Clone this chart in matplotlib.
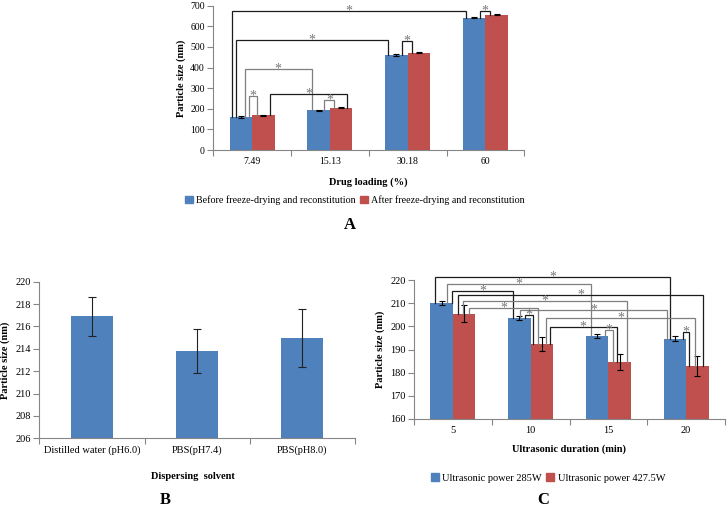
import numpy as np
import matplotlib
matplotlib.use("Agg")
from matplotlib import pyplot as plt
from matplotlib.patches import Patch

plt.rcParams['font.family'] = ['Liberation Serif', 'DejaVu Serif']

# ---- data ----
A_categories = ['7.49', '15.13', '30.18', '60']
A_before = [160, 193, 461, 641]
A_before_err = [3, 3, 3, 3]
A_after = [169, 205, 472, 656]
A_after_err = [3, 3, 3, 3]

B_categories = ['Distilled water (pH6.0)', 'PBS(pH7.4)', 'PBS(pH8.0)']
B_size = [216.9, 213.8, 215.0]
B_err = [1.75, 1.95, 2.6]

C_categories = ['5', '10', '15', '20']
C_285 = [210.0, 203.6, 195.9, 194.7]
C_285_err = [1.0, 1.0, 1.0, 1.0]
C_4275 = [205.4, 192.3, 184.6, 182.9]
C_4275_err = [3.7, 3.0, 3.5, 4.2]

# significance brackets: (cat a, series a, offset a, cat b, series b, offset b, height, shade)
A_brackets = [
    (0, 0, -0.39, 3, 0, -0.35, 674, 'k'),
    (0, 0, -0.20, 2, 0, -0.38, 534, 'k'),
    (0, 0, 0.17, 1, 0, -0.30, 391, 'g'),
    (0, 0, 0.36, 0, 1, -0.30, 264, 'g'),
    (0, 1, 0.28, 1, 1, 0.26, 270, 'k'),
    (1, 0, 0.25, 1, 1, -0.30, 243, 'g'),
    (2, 0, 0.23, 2, 1, -0.29, 529, 'k'),
    (3, 0, 0.25, 3, 1, -0.29, 674, 'k'),
]
C_brackets = [
    (0, 0, -0.29, 3, 0, -0.21, 221.2, 'k'),
    (0, 0, 0.23, 2, 0, -0.27, 218.1, 'g'),
    (0, 0, 0.47, 1, 0, -0.26, 215.3, 'k'),
    (0, 1, -0.29, 3, 1, 0.26, 213.7, 'k'),
    (0, 1, -0.04, 2, 1, 0.31, 210.8, 'g'),
    (0, 1, 0.21, 1, 1, -0.16, 208.0, 'g'),
    (1, 0, 0.03, 3, 0, -0.36, 207.1, 'g'),
    (1, 0, 0.25, 1, 1, -0.38, 204.8, 'k'),
    (1, 1, 0.20, 3, 1, -0.10, 203.7, 'g'),
    (1, 1, 0.35, 2, 1, -0.13, 199.6, 'k'),
    (2, 0, 0.35, 2, 1, -0.29, 198.5, 'g'),
    (3, 0, 0.36, 3, 1, -0.37, 197.6, 'k'),
]

BLUE = '#4F81BD'
RED = '#C0504D'
AXIS = '#868686'
SHADES = {'k': '#1c1c1c', 'g': '#7f7f7f'}
W = 0.29
W_PX, H_PX = 728, 507


def rect(l, t, r, b):
    return [l / W_PX, 1 - b / H_PX, (r - l) / W_PX, (b - t) / H_PX]


def style_axes(ax, n, fs):
    for s in ['top', 'right']:
        ax.spines[s].set_visible(False)
    for s in ['left', 'bottom']:
        ax.spines[s].set_color(AXIS)
        ax.spines[s].set_linewidth(0.8)
    ax.set_xlim(-0.5, n - 0.5)
    ax.set_xticks(range(n))
    ax.set_xticks(np.arange(-0.5, n, 1), minor=True)
    ax.tick_params(axis='x', which='major', length=0, labelsize=fs, pad=5)
    ax.tick_params(axis='x', which='minor', length=4, color=AXIS, width=0.8)
    ax.tick_params(axis='y', length=4, color=AXIS, width=0.8, labelsize=fs, pad=2)


def draw_brackets(ax, brackets, tops, fs):
    for a, sa, oa, b, sb, ob, h, shade in brackets:
        xa = a + (sa - 0.5) * W + oa * W
        xb = b + (sb - 0.5) * W + ob * W
        ya = tops[sa][a]
        yb = tops[sb][b]
        c = SHADES[shade]
        ax.plot([xa, xa, xb, xb], [ya, h, h, yb], color=c, lw=0.9,
                solid_joinstyle='miter', zorder=4, clip_on=False)
        ax.annotate('*', ((xa + xb) / 2, h), xytext=(0, 0),
                    textcoords='offset points', ha='center', va='center',
                    fontsize=fs, color='#777777', zorder=5,
                    annotation_clip=False)


fig = plt.figure(figsize=(7.28, 5.07), dpi=100)

# ---- panel A ----
axA = fig.add_axes(rect(213.3, 5.7, 524.3, 150))
x = np.arange(len(A_categories))
axA.bar(x - W / 2, A_before, W, color=BLUE, zorder=2)
axA.bar(x + W / 2, A_after, W, color=RED, zorder=2)
axA.errorbar(x - W / 2, A_before, yerr=A_before_err, fmt='none', ecolor='k',
             elinewidth=0.8, capsize=2.5, capthick=0.8, zorder=3)
axA.errorbar(x + W / 2, A_after, yerr=A_after_err, fmt='none', ecolor='k',
             elinewidth=0.8, capsize=2.5, capthick=0.8, zorder=3)
style_axes(axA, len(A_categories), 7)
axA.set_xticklabels(A_categories)
axA.set_ylim(0, 700)
axA.set_yticks(range(0, 701, 100))
axA.set_ylabel('Particle size (nm)', fontsize=7.5, fontweight='bold')
axA.yaxis.set_label_coords(-0.088, 0.5)
axA.set_xlabel('Drug loading (%)', fontsize=7.5, fontweight='bold')
axA.xaxis.set_label_coords(0.5, -0.22)
axA.xaxis.label.set_va('center')
draw_brackets(axA, A_brackets, [A_before, A_after], 10)
fig.legend(handles=[Patch(color=BLUE, label='Before freeze-drying and reconstitution'),
                    Patch(color=RED, label='After freeze-drying and reconstitution')],
           loc='center', bbox_to_anchor=(355 / W_PX, 1 - 200 / H_PX), ncol=2,
           frameon=False, fontsize=7.2, handlelength=0.8, handleheight=0.8,
           handletextpad=0.3, columnspacing=0.4, borderpad=0)
fig.text(350 / W_PX, 1 - 225 / H_PX, 'A', ha='center', va='center',
         fontsize=12, fontweight='bold')

# ---- panel B ----
axB = fig.add_axes(rect(39.3, 281.7, 355, 438.3))
xb = np.arange(len(B_categories))
axB.bar(xb, B_size, 0.40, color=BLUE, zorder=2)
axB.errorbar(xb, B_size, yerr=B_err, fmt='none', ecolor='#222222',
             elinewidth=0.8, capsize=3, capthick=0.8, zorder=3)
style_axes(axB, len(B_categories), 7.5)
axB.set_xticklabels(B_categories)
axB.set_ylim(206, 220)
axB.set_yticks(range(206, 221, 2))
axB.set_ylabel('Particle size (nm)', fontsize=7.5, fontweight='bold')
axB.yaxis.set_label_coords(-0.093, 0.5)
axB.set_xlabel('Dispersing  solvent', fontsize=7.5, fontweight='bold')
axB.xaxis.set_label_coords(0.487, -0.245)
axB.xaxis.label.set_va('center')
fig.text(165 / W_PX, 1 - 500 / H_PX, 'B', ha='center', va='center',
         fontsize=12, fontweight='bold')

# ---- panel C ----
axC = fig.add_axes(rect(414, 280, 725, 419))
xc = np.arange(len(C_categories))
axC.bar(xc - W / 2, C_285, W, color=BLUE, zorder=2)
axC.bar(xc + W / 2, C_4275, W, color=RED, zorder=2)
axC.errorbar(xc - W / 2, C_285, yerr=C_285_err, fmt='none', ecolor='k',
             elinewidth=0.8, capsize=2.5, capthick=0.8, zorder=3)
axC.errorbar(xc + W / 2, C_4275, yerr=C_4275_err, fmt='none', ecolor='k',
             elinewidth=0.8, capsize=2.5, capthick=0.8, zorder=3)
style_axes(axC, len(C_categories), 7.5)
axC.set_xticklabels(C_categories)
axC.set_ylim(160, 220)
axC.set_yticks(range(160, 221, 10))
axC.set_ylabel('Particle size (nm)', fontsize=7.5, fontweight='bold')
axC.yaxis.set_label_coords(-0.093, 0.5)
axC.set_xlabel('Ultrasonic duration (min)', fontsize=7.5, fontweight='bold')
axC.xaxis.set_label_coords(0.5, -0.216)
axC.xaxis.label.set_va('center')
draw_brackets(axC, C_brackets, [C_285, C_4275], 10)
fig.legend(handles=[Patch(color=BLUE, label='Ultrasonic power 285W'),
                    Patch(color=RED, label='Ultrasonic power 427.5W')],
           loc='center', bbox_to_anchor=(548 / W_PX, 1 - 478 / H_PX), ncol=2,
           frameon=False, fontsize=7.5, handlelength=0.8, handleheight=0.8,
           handletextpad=0.3, columnspacing=0.4, borderpad=0)
fig.text(543 / W_PX, 1 - 500 / H_PX, 'C', ha='center', va='center',
         fontsize=12, fontweight='bold')

fig.savefig('out.png', dpi=100)
